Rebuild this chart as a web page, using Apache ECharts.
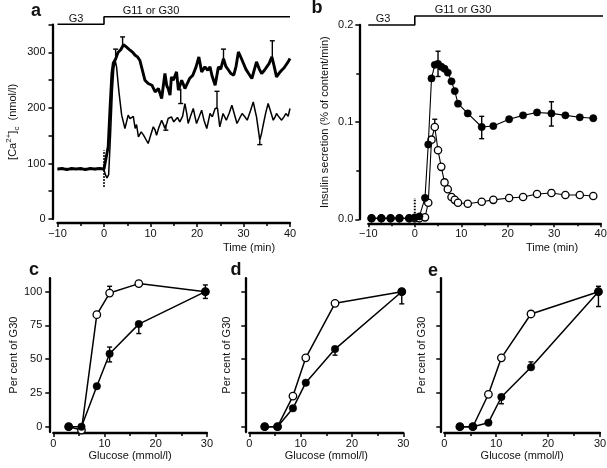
<!DOCTYPE html>
<html><head><meta charset="utf-8">
<script src="https://cdn.jsdelivr.net/npm/echarts@6/dist/echarts.min.js"></script>
<style>html,body{margin:0;padding:0;background:#fff}#c{width:607px;height:468px}</style>
</head><body><div id="c"></div>
<script>
// ---- Panel a: [Ca2+]c traces (time min, nmol/l) ----
const aThickT = [-10,-9,-8,-7,-6,-5,-4,-3,-2,-1,0,0.4,0.9,1.3,1.7,2.0,2.5,3.0,3.6,4.2,4.8,5.6,6.2,6.7,7.2,7.7,8.1,8.8,9.5,10.3,11.0,11.7,12.4,12.8,13.1,13.5,13.8,14.2,14.5,14.9,15.3,15.6,16.0,16.3,16.7,17.0,17.4,17.7,18.4,19.1,19.8,20.4,21.0,21.7,22.3,22.8,23.2,23.9,24.6,25.1,25.7,26.2,26.8,27.3,27.9,28.4,28.9,29.5,30.0,30.5,31.1,31.8,32.3,32.8,33.4,33.9,34.5,35.0,35.5,36.1,36.6,37.1,37.6,38.2,38.7,39.1,39.6,40];
const aThickV = [90,91,89,91,90,91,89,91,90,91,90,92,130,200,262,281,288,300,305,314,310,304,300,295,292,286,283,250,244,241,229,235,217,214,262,240,235,223,256,250,250,265,232,229,250,244,235,238,253,259,274,292,265,274,268,274,259,241,274,270,289,275,268,262,259,275,301,290,280,270,262,253,268,283,270,262,268,274,280,292,275,256,262,268,272,277,283,289];
const aThinT = [-10,-9,-8,-7,-6,-5,-4,-3,-2,-1,0,0.3,0.65,1.0,1.4,1.8,2.1,2.4,2.7,3.2,3.8,4.5,5.2,5.6,5.9,6.3,6.7,7.0,7.4,8.0,8.5,8.9,9.5,10.0,10.6,11.0,11.3,11.8,12.4,12.8,13.1,13.5,13.8,14.5,15.0,15.3,15.8,16.3,16.9,17.4,17.8,18.1,18.6,19.2,19.6,19.9,20.5,21.0,21.5,22.1,22.5,22.8,23.3,23.9,24.4,24.9,25.6,26.3,26.9,27.5,28.0,28.6,29.2,29.7,30.2,30.8,31.5,32.1,32.5,32.8,33.2,33.5,33.9,34.3,34.8,35.3,35.9,36.4,36.8,37.1,37.6,38.2,38.7,39.1,39.6,40];
const aThinV = [89,90,91,89,90,89,91,90,89,90,89,80,74,80,150,230,270,286,274,230,187,163,187,181,178,185,163,170,148,157,151,148,136,150,166,160,151,165,178,170,163,172,181,184,175,178,183,175,185,208,190,172,185,199,183,172,185,196,178,163,178,190,184,199,200,166,190,178,190,205,190,172,182,190,185,178,195,211,195,184,160,142,155,172,192,208,192,178,184,190,184,178,184,190,185,199];
// error bars: [time, from, to]
const aThickErr = [[2.5,288,306],[4.0,312,328],[16.5,235,208],[25.7,289,306],[36.2,292,321]];
const aThinErr = [[13.3,170,160],[24.3,200,230],[33.5,142,134]];
const aDotT = [0,0];
const aDotV = [58,124];

// ---- Panel b: insulin secretion (% of content/min) ----
const bT = [-9.3,-7.2,-5.2,-3.3,-1.2,0,1,2.2,2.9,3.6,4.3,5.0,5.7,6.4,7.1,7.9,8.6,9.3,11.4,14.4,16.9,20.3,23.3,26.3,29.4,32.4,35.5,38.4];
const bFilled = [0.001,0.001,0.001,0.001,0.001,0.002,0.003,0.022,0.077,0.145,0.159,0.160,0.157,0.155,0.151,0.142,0.132,0.119,0.109,0.095,0.096,0.103,0.107,0.110,0.109,0.107,0.105,0.104];
const bOpen = [0.001,0.001,0.001,0.001,0.001,0.001,0.001,0.002,0.017,0.082,0.095,0.071,0.054,0.038,0.031,0.023,0.020,0.017,0.016,0.018,0.020,0.022,0.023,0.026,0.027,0.025,0.025,0.024];
const bFilledErr = [[5.0,0.160,0.173],[5.0,0.160,0.147],[14.4,0.095,0.106],[14.4,0.095,0.083],[29.4,0.109,0.121],[29.4,0.109,0.096]];
const bOpenErr = [[4.3,0.095,0.103],[29.4,0.027,0.030]];
const bDotT = [0,0];
const bDotV = [0,0.022];

// ---- Stimulus bar ----
const stepT = [-10,0,0,40];
const stepTB = [-10,0,0,41.4];
const stepLevel = [0,0,1,1];

// ---- Panels c-e: per cent of G30 vs glucose ----
const glucose = [3,5.5,8.5,11,16.7,29.7];
const cFilled = [0,0,30,54,76,100];
const cOpen = [0,-2.5,83,99,106,100];
const dFilled = [0,0,13.6,32.6,57.5,100];
const dOpen = [0,0,22.7,51,91.4,100];
const eFilled = [0,0,3,22,44,100];
const eOpen = [0,0,24,51,83.5,100];
const cErr = [[11,54,48],[11,54,59],[16.7,76,69],[29.7,100,95],[29.7,100,105],[11,99,104]];
const dErr = [[16.7,57.5,53],[29.7,100,91]];
const eErr = [[11,22,17],[16.7,44,48],[29.7,100,89],[29.7,100,104]];

const FONT = 'Liberation Sans, Arial, Helvetica, sans-serif';
const INK = '#111';
const zip = (xs, ys) => xs.map((x, i) => [x, ys[i]]);

function errSeries(data, xi, yi, cap) {
  return {
    type: 'custom', xAxisIndex: xi, yAxisIndex: yi, z: 1, data: data,
    encode: {x: 0, y: [1, 2]}, silent: true,
    renderItem: function (params, api) {
      const x = api.value(0), a = api.value(1), b = api.value(2);
      const p1 = api.coord([x, a]), p2 = api.coord([x, b]);
      return {type: 'group', children: [
        {type: 'line', shape: {x1: p1[0], y1: p1[1], x2: p2[0], y2: p2[1]}, style: {stroke: '#000', lineWidth: 1.4}},
        {type: 'line', shape: {x1: p2[0] - cap, y1: p2[1], x2: p2[0] + cap, y2: p2[1]}, style: {stroke: '#000', lineWidth: 1.4}}
      ]};
    }
  };
}

const axLine = {show: true, onZero: false, lineStyle: {color: '#000', width: 2.3}};
const tick = {show: true, length: 4, lineStyle: {color: '#000', width: 1.5}};
const minor = {show: true, splitNumber: 2, length: 3, lineStyle: {color: '#000', width: 1.5}};
const lab = {color: INK, fontFamily: FONT, fontSize: 11};

const grids = [
  {left: 57.5, top: 24.7, width: 232.5, height: 194.3},   // a
  {left: 368.3, top: 25, width: 232.4, height: 194.3},    // b
  {left: 53.3, top: 278.2, width: 153.6, height: 153.9},  // c
  {left: 249.3, top: 278.2, width: 154, height: 153.9},   // d
  {left: 444.3, top: 278.2, width: 155.7, height: 153.9}, // e
  {left: 57.5, top: 16.7, width: 232.5, height: 7.6},     // step a
  {left: 368.3, top: 16, width: 232.4, height: 9}         // step b
].map(g => Object.assign({outerBoundsMode: 'none', containLabel: false}, g));

function timeX(gi) {
  return {type: 'value', gridIndex: gi, min: -10, max: 40, interval: 10, offset: 4,
    axisLine: axLine, axisTick: tick, minorTick: minor, splitLine: {show: false},
    axisLabel: Object.assign({margin: 5, formatter: v => (v < 0 ? '\u2212' + (-v) : '' + v)}, lab)};
}
function glucX(gi) {
  return {type: 'value', gridIndex: gi, min: 0, max: 30, interval: 10, offset: 1,
    axisLine: axLine, axisTick: tick, minorTick: minor, splitLine: {show: false},
    axisLabel: Object.assign({margin: 5}, lab),
    name: 'Glucose (mmol/l)', nameLocation: 'middle', nameGap: 17,
    nameTextStyle: {color: INK, fontFamily: FONT, fontSize: 11}};
}
function pctY(gi, showLab, gap) {
  return {type: 'value', gridIndex: gi, min: -4, max: 110, offset: 4,
    axisLine: axLine, axisTick: Object.assign({customValues: [0,25,50,75,100]}, tick),
    splitLine: {show: false},
    axisLabel: Object.assign({show: showLab, margin: 7, customValues: [0,25,50,75,100]}, lab),
    name: 'Per cent of G30', nameLocation: 'middle', nameGap: gap,
    nameTextStyle: {color: INK, fontFamily: FONT, fontSize: 11}};
}

const xAxes = [
  timeX(0), timeX(1), glucX(2), glucX(3), glucX(4),
  {type: 'value', gridIndex: 5, min: -10, max: 40, show: false, axisLine: {onZero: false}},
  {type: 'value', gridIndex: 6, min: -10, max: 40, show: false, axisLine: {onZero: false}}
];
const yAxes = [
  {type: 'value', gridIndex: 0, min: 0, max: 350, offset: 5,
    axisLine: axLine, axisTick: Object.assign({customValues: [0,50,100,150,200,250,300,350]}, tick),
    splitLine: {show: false},
    axisLabel: Object.assign({margin: 7, customValues: [0,100,200,300]}, lab),
    name: '{n|[Ca}{sup|2+}{n|]}{sub|c}{n|  (nmol/l)}', nameLocation: 'middle', nameGap: 32,
    nameTextStyle: {color: INK, fontFamily: FONT, fontSize: 11, rich: {
      n: {fontFamily: FONT, fontSize: 11, color: INK, lineHeight: 16, verticalAlign: 'middle'},
      sup: {fontFamily: FONT, fontSize: 8, color: INK, lineHeight: 16, verticalAlign: 'top'},
      sub: {fontFamily: FONT, fontSize: 8, color: INK, lineHeight: 16, verticalAlign: 'bottom'}
    }}},
  {type: 'value', gridIndex: 1, min: 0, max: 0.2, interval: 0.1, offset: 9,
    axisLine: axLine, axisTick: tick, minorTick: minor, splitLine: {show: false},
    axisLabel: Object.assign({margin: 6, formatter: v => v.toFixed(1)}, lab),
    name: 'Insulin secretion (% of content/min)', nameLocation: 'middle', nameGap: 29,
    nameTextStyle: {color: INK, fontFamily: FONT, fontSize: 11}},
  pctY(2, true, 30), pctY(3, false, 13), pctY(4, false, 13),
  {type: 'value', gridIndex: 5, min: 0, max: 1, show: false, axisLine: {onZero: false}},
  {type: 'value', gridIndex: 6, min: 0, max: 1, show: false, axisLine: {onZero: false}}
];

function lineS(data, xi, lw, extra) {
  return Object.assign({type: 'line', xAxisIndex: xi, yAxisIndex: xi, data: data, showSymbol: false,
    symbol: 'none', lineStyle: {color: '#000', width: lw}, itemStyle: {color: '#000'}, silent: true, animation: false}, extra || {});
}
function markS(data, xi, filled, lw, size, z) {
  return {type: 'line', xAxisIndex: xi, yAxisIndex: xi, data: data, symbol: 'circle', symbolSize: size,
    showSymbol: true, z: z, lineStyle: {color: '#000', width: lw},
    itemStyle: filled ? {color: '#000', borderColor: '#000', borderWidth: 0.5} : {color: '#fff', borderColor: '#000', borderWidth: 1.3},
    silent: true, animation: false};
}

const series = [
  // panel a
  lineS(zip(aThinT, aThinV), 0, 1.5),
  lineS(zip(aThickT, aThickV), 0, 2.9),
  lineS(zip(aDotT, aDotV), 0, 2, {lineStyle: {color: '#000', width: 2, type: [1.5, 1.5]}}),
  errSeries(aThickErr, 0, 0, 2.5),
  errSeries(aThinErr, 0, 0, 2.5),
  // panel b
  lineS(zip(bDotT, bDotV), 1, 2, {lineStyle: {color: '#000', width: 2, type: [1.5, 1.5]}}),
  errSeries(bFilledErr, 1, 1, 2.5),
  errSeries(bOpenErr, 1, 1, 2.5),
  markS(zip(bT, bOpen), 1, false, 1.1, 7.3, 3),
  markS(zip(bT, bFilled), 1, true, 1.1, 7.3, 4),
  // panel c
  errSeries(cErr, 2, 2, 2.5),
  markS(zip(glucose, cOpen), 2, false, 1.5, 7.5, 3),
  markS(zip(glucose, cFilled), 2, true, 1.5, 7.5, 4),
  // panel d
  errSeries(dErr, 3, 3, 2.5),
  markS(zip(glucose, dOpen), 3, false, 1.5, 7.5, 3),
  markS(zip(glucose, dFilled), 3, true, 1.5, 7.5, 4),
  // panel e
  errSeries(eErr, 4, 4, 2.5),
  markS(zip(glucose, eOpen), 4, false, 1.5, 7.5, 3),
  markS(zip(glucose, eFilled), 4, true, 1.5, 7.5, 4),
  // stimulus bars
  lineS(zip(stepT, stepLevel), 5, 1.6, {clip: false}),
  lineS(zip(stepTB, stepLevel), 6, 1.6, {clip: false})
];

function txt(x, y, s, size, bold, align) {
  return {type: 'text', x: x, y: y, silent: true, style: {text: s, fill: INK, font: (bold ? 'bold ' : '') + size + 'px ' + FONT,
    textAlign: align || 'center', textVerticalAlign: 'middle'}};
}
const graphic = [
  txt(36, 11, 'a', 18, true), txt(317, 8, 'b', 18, true),
  txt(34, 270, 'c', 18, true), txt(236, 270, 'd', 18, true), txt(433, 271, 'e', 18, true),
  txt(76, 18.5, 'G3', 11), txt(151, 10.5, 'G11 or G30', 11),
  txt(383, 18.5, 'G3', 11), txt(463, 10, 'G11 or G30', 11),
  txt(249, 248, 'Time (min)', 11), txt(552, 248, 'Time (min)', 11)
];

const chart = echarts.init(document.getElementById('c'), null, {renderer: 'canvas'});
chart.setOption({animation: false, backgroundColor: '#fff', grid: grids, xAxis: xAxes, yAxis: yAxes, series: series, graphic: graphic});
</script></body></html>
